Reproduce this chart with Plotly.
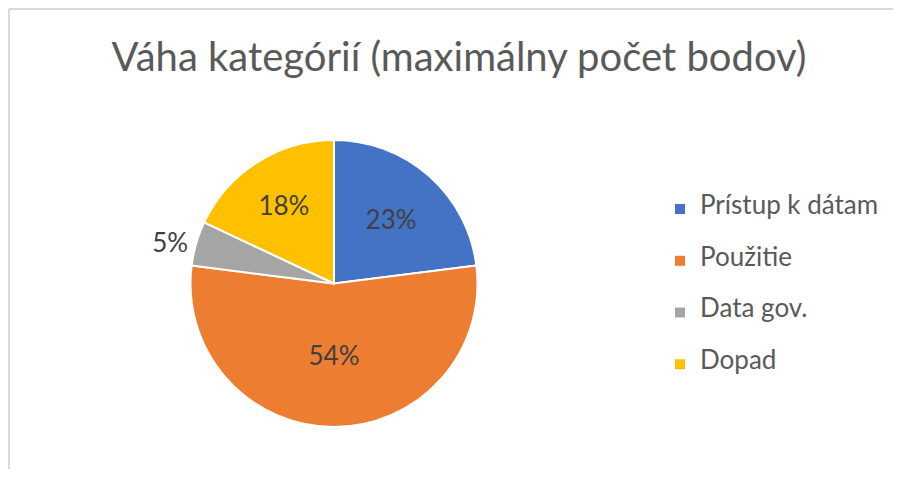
import plotly.graph_objects as go

categories = ["Prístup k dátam", "Použitie", "Data gov.", "Dopad"]
values = [23, 54, 5, 18]
colors = ["#4472C4", "#ED7D31", "#A5A5A5", "#FFC000"]
title_text = "Váha kategórií (maximálny počet bodov)"

# figure sits inside the page body (8px margin)
W, H = 885, 461
OFF = 8
cx, cy, r = 334 - OFF, 283.5 - OFF, 143.5

legend_labels = ["<br><span style='font-size:26px'>%s</span><br>" % c for c in categories]

fig = go.Figure(go.Pie(
    labels=legend_labels,
    values=values,
    sort=False,
    direction="clockwise",
    rotation=0,
    marker=dict(colors=colors, line=dict(color="white", width=2)),
    texttemplate="%{percent:.0%}",
    textposition=["inside", "inside", "outside", "inside"],
    insidetextorientation="horizontal",
    textfont=dict(size=26, color="#404040", family="Lato"),
    domain=dict(x=[(cx - r) / W, (cx + r) / W], y=[(H - cy - r) / H, (H - cy + r) / H]),
    hoverinfo="percent",
))

fig.update_layout(
    width=W, height=H,
    margin=dict(l=0, r=0, t=0, b=0),
    paper_bgcolor="white",
    font=dict(family="Lato", color="#595959"),
    title=dict(text=title_text, x=(459 - OFF) / W, xanchor="center", y=1 - (57 - OFF) / H, yanchor="middle",
               yref="container", font=dict(size=40, color="#595959", family="Lato")),
    showlegend=True,
    legend=dict(x=652 / W, xanchor="left", y=1 - 278.5 / H, yanchor="middle",
                font=dict(size=12.5, color="#595959", family="Lato"), tracegroupgap=0),
    shapes=[
        dict(type="line", xref="paper", yref="paper", x0=1 / W, x1=1.0, y0=1 - 1 / H, y1=1 - 1 / H,
             line=dict(color="#D9D9D9", width=2)),
        dict(type="line", xref="paper", yref="paper", x0=1 / W, x1=1 / W, y0=0, y1=1 - 1 / H,
             line=dict(color="#D9D9D9", width=2)),
    ],
)

fig.write_html("out.html")
